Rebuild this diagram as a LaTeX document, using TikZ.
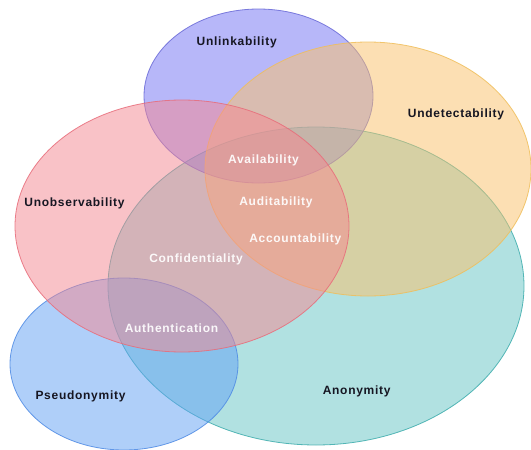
\documentclass[tikz,border=0pt]{standalone}
\usepackage{fontspec}
\setmainfont{Liberation Sans}[LetterSpace=6]
\definecolor{cLink}{RGB}{113,113,245}
\definecolor{cLinkD}{RGB}{105,105,215}
\definecolor{cDet}{RGB}{251,193,105}
\definecolor{cDetD}{RGB}{240,190,90}
\definecolor{cObs}{RGB}{245,135,145}
\definecolor{cObsD}{RGB}{232,108,122}
\definecolor{cAnon}{RGB}{101,197,197}
\definecolor{cAnonD}{RGB}{60,172,172}
\definecolor{cPse}{RGB}{97,161,245}
\definecolor{cPseD}{RGB}{78,138,228}
\definecolor{lblk}{RGB}{22,22,34}
\begin{document}
\begin{tikzpicture}[x=1pt,y=-1pt,
  setshape/.style={line width=0.8pt, fill opacity=0.5, draw opacity=0.85},
  blabel/.style={font=\bfseries\fontsize{12}{14}\selectfont, text=lblk, inner sep=0pt},
  wlabel/.style={font=\bfseries\fontsize{12}{14}\selectfont, text=white, text opacity=0.92, inner sep=0pt}]
\useasboundingbox (0,0) rectangle (531,450);
\fill[white] (0,0) rectangle (531,450);
% sets
\path[setshape, fill=cAnon, draw=cAnonD] (316,286) ellipse [x radius=208pt, y radius=159pt];
\path[setshape, fill=cPse, draw=cPseD] (124,364) ellipse [x radius=114pt, y radius=86pt];
\path[setshape, fill=cLink, draw=cLinkD] (258.5,96) ellipse [x radius=114.5pt, y radius=87pt];
\path[setshape, fill=cDet, draw=cDetD] (368,169) ellipse [x radius=163pt, y radius=127pt];
\path[setshape, fill=cObs, draw=cObsD] (182,226) ellipse [x radius=167pt, y radius=126pt];
% labels
\node[blabel] (unlink) at (236.7,42) {Unlinkability};
\node[blabel] (undet) at (456,114) {Undetectability};
\node[blabel] (unobs) at (74.5,203) {Unobservability};
\node[blabel] (pseudo) at (80.5,396.7) {Pseudonymity};
\node[blabel] (anon) at (356.7,391.7) {Anonymity};
\node[wlabel] (avail) at (263.5,160.5) {Availability};
\node[wlabel] (audit) at (276,202.7) {Auditability};
\node[wlabel] (account) at (295.3,239.3) {Accountability};
\node[wlabel] (confid) at (196,259) {Confidentiality};
\node[wlabel] (authen) at (171.5,328) {Authentication};
\end{tikzpicture}
\end{document}
